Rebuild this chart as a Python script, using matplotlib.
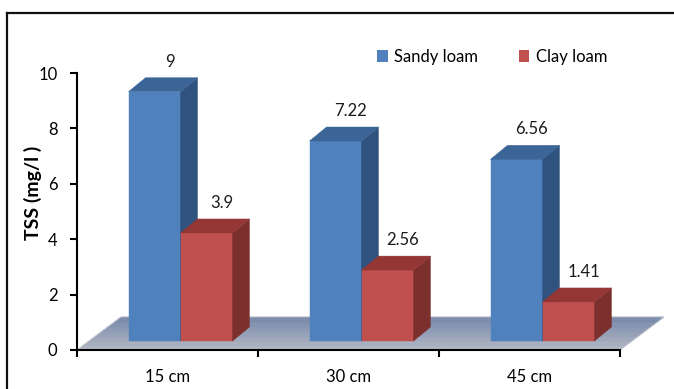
import numpy as np
import matplotlib.pyplot as plt
from matplotlib.patches import Polygon, Patch
from matplotlib.lines import Line2D
from matplotlib.colors import LinearSegmentedColormap

plt.rcParams['font.family'] = ['Lato', 'DejaVu Sans']

# TSS values per soil depth
depths = ["15 cm", "30 cm", "45 cm"]
sandy_loam = [9, 7.22, 6.56]
clay_loam = [3.9, 2.56, 1.41]
series_names = ["Sandy loam", "Clay loam"]

# face colours: front, side, top
blue = ("#4F81BD", "#30527F", "#3C6597")
red = ("#C0504D", "#7C302E", "#933634")

W, H = 674, 389
fig = plt.figure(figsize=(W / 100, H / 100), dpi=100)

# plot area: y axis at x=77px, floor front edge at y=350px
ax = fig.add_axes([77 / W, (H - 350) / H, 543 / W, 277 / H])
ax.set_xlim(0, 3)
ax.set_ylim(0, 10)
pxx = 543 / 3      # pixels per category
pxy = 277 / 10     # pixels per unit

# pseudo-3D geometry (in data units)
floor_dx, floor_dy = 44 / pxx, 33 / pxy
bar_dx, bar_dy = 17 / pxx, 14 / pxy
bar_w = 52 / pxx
base = 9 / pxy
shift = 13 / pxx

# floor: parallelogram filled with thin strips for a front-to-back gradient
fcmap = LinearSegmentedColormap.from_list("floor", ["#B3B8C4", "#7486A8"])
n = 40
for k in range(n):
    t0, t1 = k / n, (k + 1) / n
    pts = [(t0 * floor_dx, t0 * floor_dy), (3 + t0 * floor_dx, t0 * floor_dy),
           (3 + t1 * floor_dx, t1 * floor_dy), (t1 * floor_dx, t1 * floor_dy)]
    col = fcmap((k + 0.5) / n)
    ax.add_patch(Polygon(pts, closed=True, facecolor=col, edgecolor=col,
                         lw=0.4, clip_on=False, zorder=1))
ax.add_patch(Polygon([(0, 0), (3, 0), (3 + floor_dx, floor_dy), (floor_dx, floor_dy)],
                     closed=True, facecolor="none", edgecolor="#c4c8d0", lw=0.6,
                     clip_on=False, zorder=1.1))


def draw_bar(x0, v, cols):
    front = [(x0, base), (x0 + bar_w, base), (x0 + bar_w, base + v), (x0, base + v)]
    side = [(x0 + bar_w, base), (x0 + bar_w + bar_dx, base + bar_dy),
            (x0 + bar_w + bar_dx, base + v + bar_dy), (x0 + bar_w, base + v)]
    top = [(x0, base + v), (x0 + bar_w, base + v),
           (x0 + bar_w + bar_dx, base + v + bar_dy), (x0 + bar_dx, base + v + bar_dy)]
    for pts, c in zip((front, side, top), cols):
        ax.add_patch(Polygon(pts, closed=True, facecolor=c, edgecolor=c,
                             lw=0.3, zorder=2, clip_on=False))


for i, (s, c) in enumerate(zip(sandy_loam, clay_loam)):
    xc = i + 0.5 + shift
    draw_bar(xc - bar_w, s, blue)
    draw_bar(xc, c, red)
    for x0, v in ((xc - bar_w, s), (xc, c)):
        ax.annotate(f"{v:g}", xy=(x0 + bar_w / 2, base + v), xytext=(15, 30),
                    textcoords="offset pixels", ha="center", va="center",
                    fontsize=12, color="#1a1a1a", annotation_clip=False)

# axes styling
for side in ("top", "right"):
    ax.spines[side].set_visible(False)
for side in ("left", "bottom"):
    ax.spines[side].set_linewidth(1.5)
    ax.spines[side].set_zorder(3)
ax.set_yticks(np.arange(0, 11, 2))
ax.tick_params(axis="y", length=5, width=1.5, pad=9, labelsize=12)
ax.set_xticks([0, 1, 2, 3])
ax.set_xticklabels([])
ax.set_xticks([0.5, 1.5, 2.5], minor=True)
ax.set_xticklabels(depths, minor=True)
ax.tick_params(axis="x", which="major", length=5, width=1.5)
ax.tick_params(axis="x", which="minor", length=0, pad=14, labelsize=12)
ax.patch.set_visible(False)

fig.text(33 / W, 1 - 193 / H, "TSS (mg/l )", rotation=90, ha="center", va="center",
         fontsize=14, fontweight="bold")

handles = [Patch(facecolor=blue[0]), Patch(facecolor=red[0])]
fig.legend(handles, series_names, loc="center left", ncol=2, frameon=False,
           bbox_to_anchor=(362 / W, 1 - 57 / H), fontsize=12,
           handlelength=0.65, handleheight=0.75, handletextpad=0.4,
           columnspacing=2.4)

# outer frame
fig.add_artist(Line2D([7 / W, 1], [1 - 13 / H, 1 - 13 / H], color="#111", lw=1.6))
fig.add_artist(Line2D([7 / W, 7 / W], [0, 1 - 13 / H], color="#111", lw=1.6))

fig.savefig("out.png", dpi=100)
